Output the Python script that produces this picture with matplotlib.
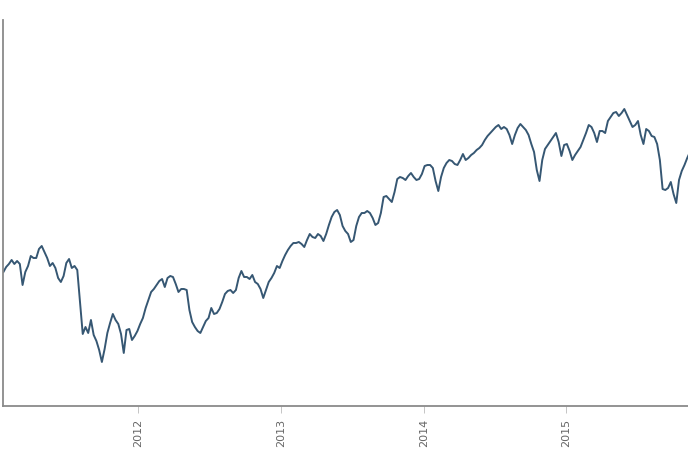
import matplotlib
matplotlib.use("Agg")
import matplotlib.pyplot as plt
import matplotlib.dates as mdates
import pandas as pd

# weekly closes (arbitrary index units)
start_date = "2011-01-21"
values = [
    134, 139, 142, 146, 142, 145, 142, 121, 134, 140,
    150, 148, 148, 157, 160, 154, 148, 140, 143, 138,
    128, 124, 130, 143, 147, 138, 140, 136, 104, 72,
    79, 73, 86, 71, 65, 56, 44, 57, 73, 83,
    92, 86, 82, 72, 53, 76, 77, 66, 70, 75,
    82, 88, 98, 106, 114, 117, 121, 125, 127, 119,
    128, 130, 129, 122, 114, 117, 117, 116, 96, 84,
    79, 75, 73, 79, 85, 88, 98, 92, 93, 97,
    104, 112, 115, 116, 113, 116, 128, 135, 129, 129,
    127, 131, 124, 122, 117, 108, 116, 124, 128, 133,
    140, 138, 145, 151, 156, 160, 163, 163, 164, 162,
    159, 166, 172, 169, 168, 172, 170, 165, 172, 181,
    189, 194, 196, 191, 180, 175, 172, 164, 166, 180,
    189, 193, 193, 195, 193, 188, 181, 183, 193, 209,
    210, 207, 204, 214, 227, 229, 228, 226, 230, 233,
    229, 226, 227, 232, 240, 241, 241, 238, 225, 215,
    229, 238, 243, 246, 245, 242, 241, 246, 252, 246,
    248, 251, 253, 256, 258, 261, 266, 270, 273, 276,
    279, 281, 277, 279, 277, 271, 262, 271, 278, 282,
    279, 276, 271, 262, 254, 236, 225, 246, 257, 261,
    265, 269, 273, 264, 250, 261, 262, 255, 246, 251,
    255, 259, 266, 273, 281, 279, 273, 264, 275, 275,
    273, 285, 289, 293, 294, 290, 293, 297, 291, 285,
    279, 281, 285, 271, 262, 277, 275, 270, 269, 262,
    246, 217, 216, 218, 224, 212, 203, 226, 235, 241,
    248, 254,
]
dates = pd.date_range(start_date, periods=len(values), freq="7D")

line_color = "#365773"
axis_color = "#8a8a8a"

fig = plt.figure(figsize=(6.88, 4.59), dpi=100)
ax = fig.add_axes([0.0044, 0.1155, 0.9956, 0.8409])

ax.plot(dates, values, color=line_color, linewidth=1.4)

ax.set_xlim(pd.Timestamp("2011-01-20"), pd.Timestamp("2015-11-08"))
ax.set_ylim(0, 386)

ax.xaxis.set_major_locator(mdates.YearLocator())
ax.xaxis.set_major_formatter(mdates.DateFormatter("%Y"))
ax.tick_params(axis="x", length=5, width=0.6, color="#bbbbbb", pad=4,
               labelsize=8, labelcolor="#666666", labelrotation=90)
ax.set_yticks([])

for side in ["top", "right"]:
    ax.spines[side].set_visible(False)
for side in ["left", "bottom"]:
    ax.spines[side].set_color(axis_color)
    ax.spines[side].set_linewidth(1.3)

fig.savefig("out.png", dpi=100)
